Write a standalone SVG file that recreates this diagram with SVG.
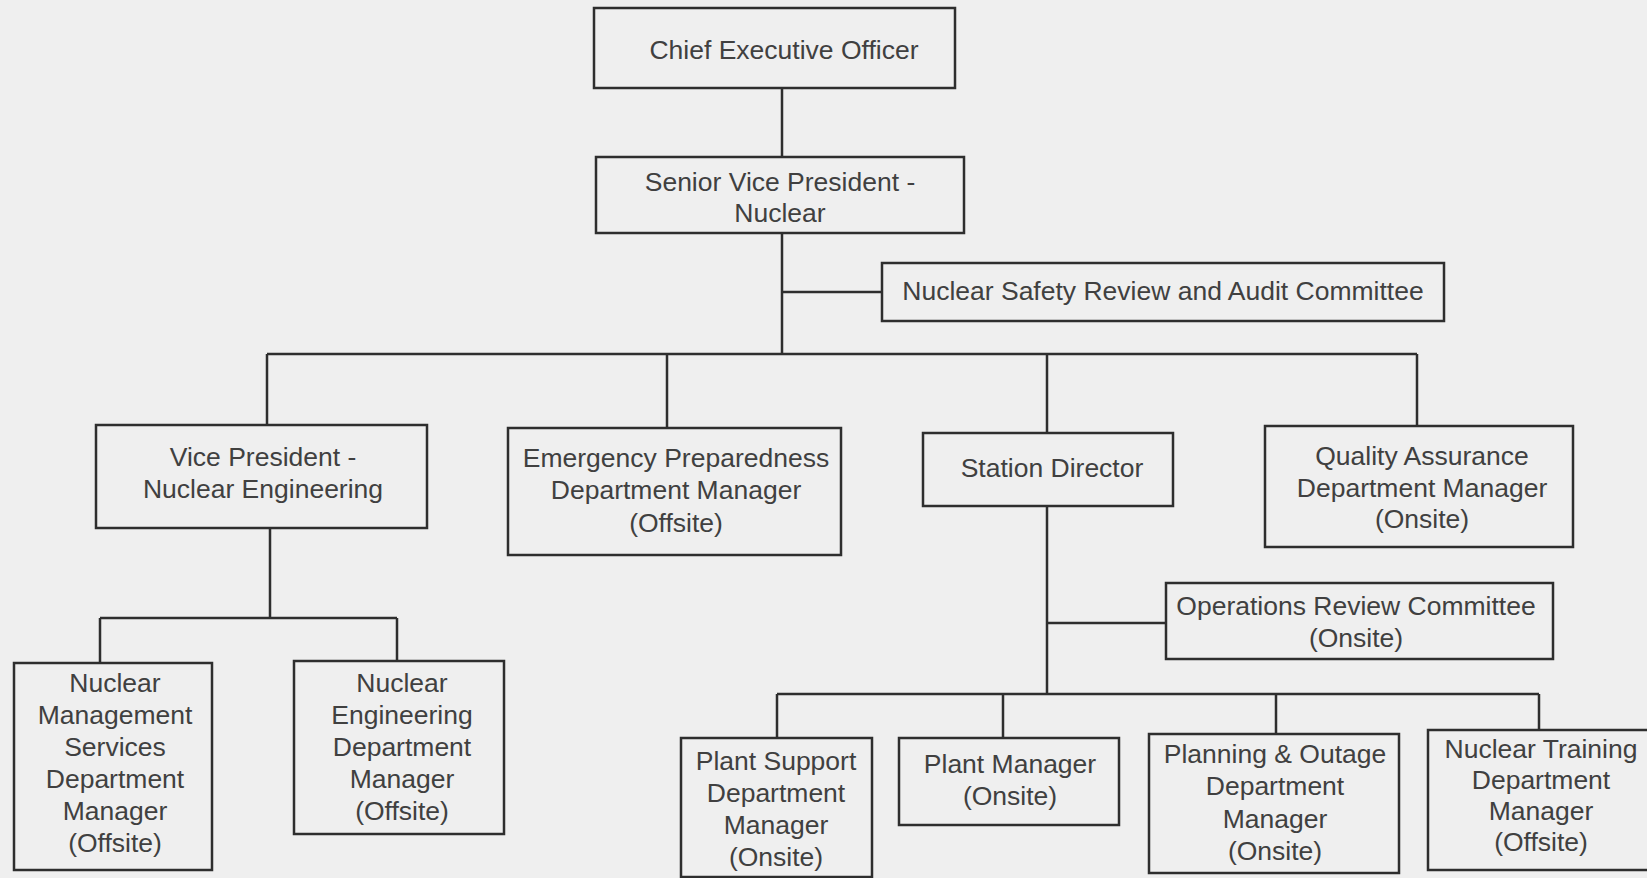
<svg xmlns="http://www.w3.org/2000/svg" width="1647" height="878" viewBox="0 0 1647 878">
<style>
.box{fill:none;stroke:#2e2e2e;stroke-width:2.5}
.ln{fill:none;stroke:#2e2e2e;stroke-width:2.5}
text{font-family:"Liberation Sans",Arial,sans-serif;font-size:26.5px;fill:#404040;text-anchor:middle}
</style>
<rect width="1647" height="878" fill="#efefef"/>
<g id="connectors">
<path class="ln" d="M782 88V157M782 233V354M782 292H882M267 354H1417M267 354V425M667 354V428M1047 354V433M1417 354V426"/>
<path class="ln" d="M270 528V618M100 618H397M100 618V663M397 618V661"/>
<path class="ln" d="M1047 506V694M1047 623H1166M777 694H1539M777 694V738M1003 694V738M1276 694V734M1539 694V730"/>
</g>
<g id="ceo"><rect class="box" x="594" y="8" width="361" height="80"/><text x="784" y="59">Chief Executive Officer</text></g>
<g id="svp"><rect class="box" x="596" y="157" width="368" height="76"/><text x="780" y="191">Senior Vice President -</text><text x="780" y="222">Nuclear</text></g>
<g id="nsrac"><rect class="box" x="882" y="263" width="562" height="58"/><text x="1163" y="300">Nuclear Safety Review and Audit Committee</text></g>
<g id="vpne"><rect class="box" x="96" y="425" width="331" height="103"/><text x="263" y="466">Vice President -</text><text x="263" y="498">Nuclear Engineering</text></g>
<g id="ep"><rect class="box" x="508" y="428" width="333" height="127"/><text x="676" y="467">Emergency Preparedness</text><text x="676" y="499">Department Manager</text><text x="676" y="532">(Offsite)</text></g>
<g id="sd"><rect class="box" x="923" y="433" width="250" height="73"/><text x="1052" y="477">Station Director</text></g>
<g id="qa"><rect class="box" x="1265" y="426" width="308" height="121"/><text x="1422" y="465">Quality Assurance</text><text x="1422" y="497">Department Manager</text><text x="1422" y="528">(Onsite)</text></g>
<g id="nms"><rect class="box" x="14" y="663" width="198" height="207"/><text x="115" y="692">Nuclear</text><text x="115" y="724">Management</text><text x="115" y="756">Services</text><text x="115" y="788">Department</text><text x="115" y="820">Manager</text><text x="115" y="852">(Offsite)</text></g>
<g id="ned"><rect class="box" x="294" y="661" width="210" height="173"/><text x="402" y="692">Nuclear</text><text x="402" y="724">Engineering</text><text x="402" y="756">Department</text><text x="402" y="788">Manager</text><text x="402" y="820">(Offsite)</text></g>
<g id="orc"><rect class="box" x="1166" y="583" width="387" height="76"/><text x="1356" y="615">Operations Review Committee</text><text x="1356" y="647">(Onsite)</text></g>
<g id="ps"><rect class="box" x="681" y="738" width="191" height="139"/><text x="776" y="770">Plant Support</text><text x="776" y="802">Department</text><text x="776" y="834">Manager</text><text x="776" y="866">(Onsite)</text></g>
<g id="pm"><rect class="box" x="899" y="738" width="220" height="87"/><text x="1010" y="773">Plant Manager</text><text x="1010" y="805">(Onsite)</text></g>
<g id="po"><rect class="box" x="1149" y="734" width="250" height="139"/><text x="1275" y="763">Planning &amp; Outage</text><text x="1275" y="795">Department</text><text x="1275" y="828">Manager</text><text x="1275" y="860">(Onsite)</text></g>
<g id="nt"><rect class="box" x="1428" y="730" width="232" height="140"/><text x="1541" y="758">Nuclear Training</text><text x="1541" y="789">Department</text><text x="1541" y="820">Manager</text><text x="1541" y="851">(Offsite)</text></g>
</svg>
